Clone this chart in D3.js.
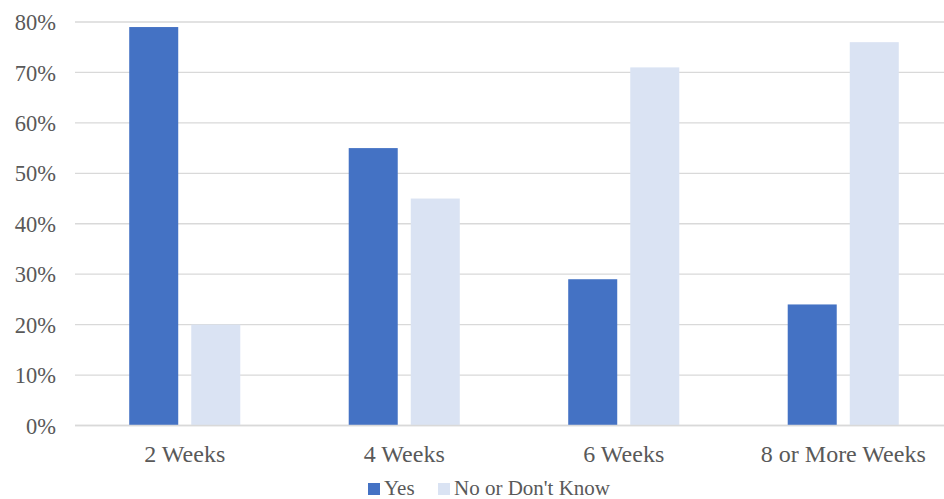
<!DOCTYPE html>
<html>
<head>
<meta charset="utf-8">
<script src="https://cdn.jsdelivr.net/npm/d3@7/dist/d3.min.js"></script>
<style>
  html, body { margin: 0; padding: 0; background: #fff; }
  svg { display: block; }
</style>
</head>
<body>
<svg id="chart" width="944" height="499"></svg>
<script>
// Survey responses by time span
const categories = ["2 Weeks", "4 Weeks", "6 Weeks", "8 or More Weeks"];
const seriesNames = ["Yes", "No or Don't Know"];
const yesValues = [79, 55, 29, 24];
const noValues = [20, 45, 71, 76];
const yTicks = [0, 10, 20, 30, 40, 50, 60, 70, 80];
const colors = ["#4472C4", "#DAE3F3"];

const FONT = '"Liberation Serif", "Times New Roman", Times, serif';
const TEXT_COLOR = "#595959";

const svg = d3.select("#chart");
const plot = { left: 75, right: 953, top: 22, bottom: 425.5 };

const x0 = d3.scaleBand()
  .domain(categories)
  .range([plot.left, plot.right])
  .paddingInner(0.494)
  .paddingOuter(0.247);

const x1 = d3.scaleBand()
  .domain(seriesNames)
  .range([0, x0.bandwidth()])
  .paddingInner(0.21)
  .paddingOuter(0);

const y = d3.scaleLinear().domain([0, 80]).range([plot.bottom, plot.top]);

// Gridlines
svg.append("g")
  .selectAll("line")
  .data(yTicks)
  .join("line")
  .attr("x1", plot.left)
  .attr("x2", plot.right)
  .attr("y1", d => y(d))
  .attr("y2", d => y(d))
  .attr("stroke", "#D9D9D9")
  .attr("stroke-width", 1.3);

// Y axis labels
const yAxis = d3.axisLeft(y).tickValues(yTicks).tickFormat(d => d + "%").tickSize(0).tickPadding(0);
const yG = svg.append("g").attr("transform", "translate(56,0)").call(yAxis);
yG.select(".domain").remove();
yG.selectAll("text")
  .style("font-family", FONT)
  .style("font-size", "22.5px")
  .style("fill", TEXT_COLOR)
  .attr("dy", "0.34em");

// Bars
const rows = categories.map((c, i) => ({ cat: c, vals: [yesValues[i], noValues[i]] }));
const groups = svg.append("g")
  .selectAll("g")
  .data(rows)
  .join("g")
  .attr("transform", d => `translate(${x0(d.cat)},0)`);

groups.selectAll("rect")
  .data(d => d.vals.map((v, j) => ({ name: seriesNames[j], v, j })))
  .join("rect")
  .attr("x", d => x1(d.name))
  .attr("width", x1.bandwidth())
  .attr("y", d => y(d.v))
  .attr("height", d => y(0) - y(d.v))
  .attr("fill", d => colors[d.j]);

// Baseline
svg.append("line")
  .attr("x1", plot.left).attr("x2", plot.right)
  .attr("y1", y(0)).attr("y2", y(0))
  .attr("stroke", "#D9D9D9").attr("stroke-width", 1.3);

// Category labels
const xAxis = d3.axisBottom(x0).tickSize(0).tickPadding(0);
const xG = svg.append("g").attr("transform", `translate(0,${plot.bottom + 36})`).call(xAxis);
xG.select(".domain").remove();
xG.selectAll("text")
  .style("font-family", FONT)
  .style("font-size", "24px")
  .style("fill", TEXT_COLOR)
  .attr("dy", 0);

// Legend
const legend = svg.append("g").attr("transform", "translate(0,495)");
const legendItems = [
  { name: seriesNames[0], color: colors[0], x: 368 },
  { name: seriesNames[1], color: colors[1], x: 438 }
];
legendItems.forEach(it => {
  legend.append("rect")
    .attr("x", it.x).attr("y", -12)
    .attr("width", 12).attr("height", 12)
    .attr("fill", it.color);
  legend.append("text")
    .attr("x", it.x + 16).attr("y", 0)
    .style("font-family", FONT)
    .style("font-size", "21px")
    .style("fill", TEXT_COLOR)
    .text(it.name);
});
</script>
</body>
</html>
